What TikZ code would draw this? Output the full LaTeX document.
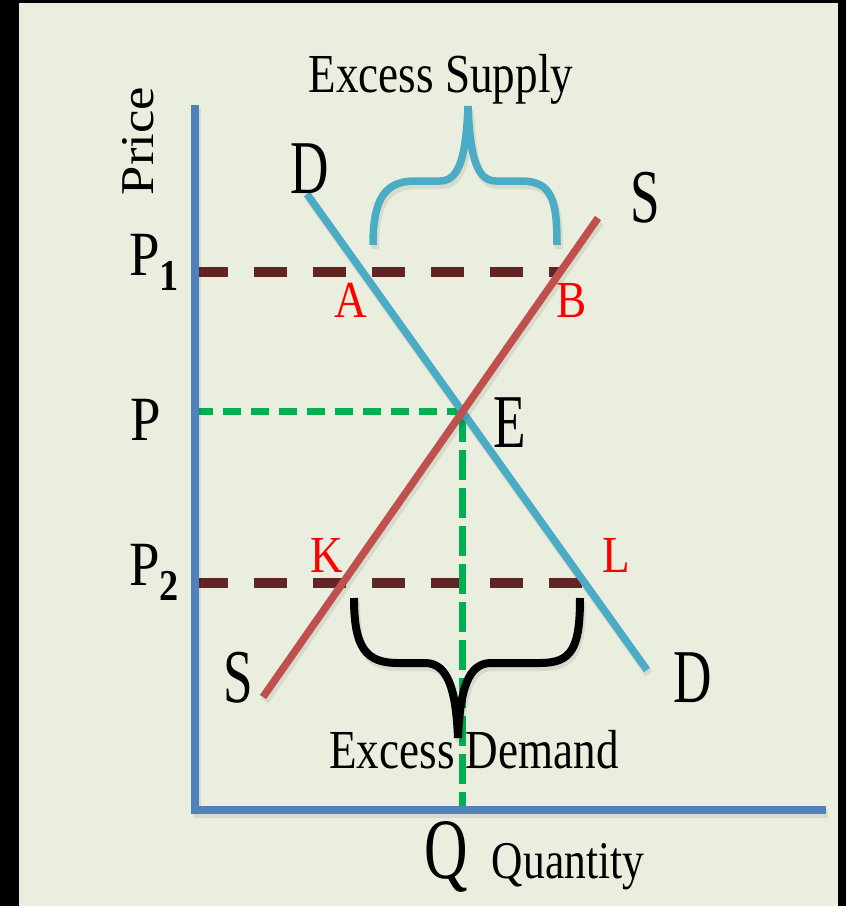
\documentclass[tikz,border=0pt]{standalone}
\usepackage{fontspec}
\setmainfont{Liberation Serif}
\newfontfamily\nrwA[FakeStretch=0.70]{Liberation Serif}
\newfontfamily\nrwB[FakeStretch=0.82]{Liberation Serif}
\newfontfamily\nrwC[FakeStretch=0.87]{Liberation Serif}
\newfontfamily\wdeA[FakeStretch=1.12]{Liberation Serif}
\usetikzlibrary{calc}
\definecolor{bgpaper}{HTML}{EAEEDE}
\definecolor{axblue}{HTML}{4F81BD}
\definecolor{dblue}{HTML}{4BACC6}
\definecolor{sred}{HTML}{C0504D}
\definecolor{lvlbrown}{HTML}{632523}
\definecolor{eqgreen}{HTML}{00B050}
\tikzset{
  shd/.style={preaction={draw=black,opacity=0.08,line width=#1,transform canvas={shift={(2pt,-4pt)}}}},
  ax/.style={draw=axblue,line width=7.5pt,shd=8.5pt},
  dline/.style={draw=dblue,line width=7.5pt,shd=8.5pt},
  sline/.style={draw=sred,line width=7.5pt,shd=8.5pt},
  lvl/.style={draw=lvlbrown,line width=10.5pt,dash pattern=on 33pt off 26pt},
  eqh/.style={draw=eqgreen,line width=7pt,dash pattern=on 18pt off 10pt},
  eqv/.style={draw=eqgreen,line width=7pt,dash pattern=on 30pt off 8pt},
  brc/.style={line width=7.5pt,shd=8pt},
  lab/.style={inner sep=0pt,anchor=base},
  big/.style={lab,font=\nrwA\fontsize{76}{80}\selectfont},
  mid/.style={lab,font=\nrwB\fontsize{55}{60}\selectfont},
  pl/.style={lab,anchor=base west,font=\nrwC\fontsize{63}{66}\selectfont},
  pt/.style={lab,text=red,font=\nrwC\fontsize{52}{56}\selectfont},
}
\newcommand{\psub}[1]{\raisebox{-15pt}{\bfseries\fontsize{44}{44}\selectfont #1}}

\begin{document}
\begin{tikzpicture}[x=1pt,y=-1pt]
  \useasboundingbox (0,0) rectangle (846,906);
  \fill[black] (0,0) rectangle (846,906);
  \fill[bgpaper] (19,3) rectangle (838,906);

  % points of the diagram
  \coordinate (o) at (195,810);
  \coordinate (yt) at (195,105);
  \coordinate (xe) at (826,810);
  \coordinate (d0) at (307,194);
  \coordinate (d1) at (647,670);
  \coordinate (s0) at (263,697);
  \coordinate (s1) at (598,218);
  \coordinate (pa) at (195,272);
  \coordinate (pb) at (560,272);
  \coordinate (qa) at (195,583);
  \coordinate (qb) at (585,583);
  \coordinate (e) at (intersection of d0--d1 and s0--s1);
  \coordinate (pe) at (o |- e);
  \coordinate (qe) at (e |- o);

  % price levels
  \draw[lvl] (pa) -- (pb);
  \draw[lvl] (qa) -- (qb);
  \draw[eqh] (pe) -- (e);
  \draw[eqv] (e) -- (qe);

  % axes and curves
  \draw[ax] (yt) -- (o) -- (xe);
  \draw[dline] (d0) -- (d1);
  \draw[sline] (s0) -- (s1);

  % braces
  \draw[brc,draw=dblue] (373,245) .. controls (373,200) and (384,181) .. (415,181) -- (440,181)
    .. controls (458,181) and (466,160) .. (468,106)
    .. controls (470,160) and (478,181) .. (496,181) -- (521,181)
    .. controls (552,181) and (557,200) .. (557,245);
  \draw[brc,draw=black,line width=8pt] (354,598) .. controls (354,648) and (366,663) .. (398,663) -- (425,663)
    .. controls (448,663) and (456,690) .. (458,738)
    .. controls (460,690) and (468,663) .. (491,663) -- (540,663)
    .. controls (572,663) and (580,648) .. (580,598);

  % labels
  \node[mid] (es) at (441,92) {Excess Supply};
  \node[mid] (ed) at (474,768) {Excess Demand};
  \node[lab,rotate=90,font=\wdeA\fontsize{47}{50}\selectfont] (pr) at (153,141) {Price};
  \node[pl] (p1) at (129,275) {P\psub{1}};
  \node[pl] (p) at (130,440) {P};
  \node[pl] (p2) at (129,585) {P\psub{2}};
  \node[big] (dt) at (310,193) {D};
  \node[big] (st) at (645,222) {S};
  \node[big] (el) at (510,447) {E};
  \node[big] (sb) at (238,702) {S};
  \node[big] (db) at (693,702) {D};
  \node[big,font=\nrwA\fontsize{86}{90}\selectfont] (q) at (446,878) {Q};
  \node[mid,font=\nrwB\fontsize{53}{56}\selectfont] (qt) at (568,878) {Quantity};
  \node[pt] (a) at (351,317) {A};
  \node[pt] (b) at (572,317) {B};
  \node[pt] (k) at (327,572) {K};
  \node[pt] (l) at (616,572) {L};
\end{tikzpicture}
\end{document}
